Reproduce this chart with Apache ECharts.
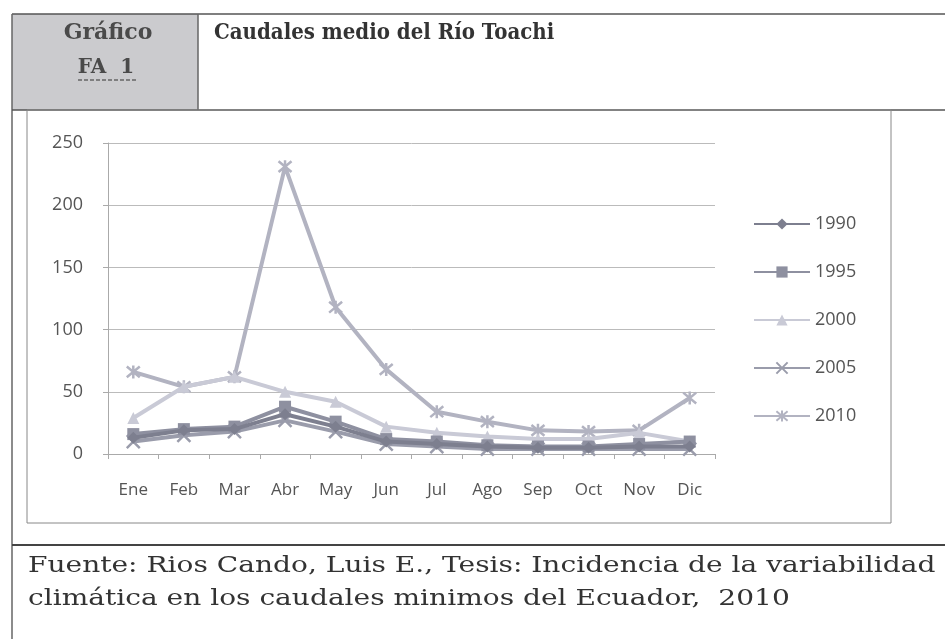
<!DOCTYPE html>
<html>
<head>
<meta charset="utf-8">
<script src="https://cdn.jsdelivr.net/npm/echarts@6/dist/echarts.min.js"></script>
<style>
  html, body { margin: 0; padding: 0; background: #fff; }
  #chart { width: 945px; height: 639px; }
</style>
</head>
<body>
<div id="chart"></div>
<script>
// data
const months = ['Ene', 'Feb', 'Mar', 'Abr', 'May', 'Jun', 'Jul', 'Ago', 'Sep', 'Oct', 'Nov', 'Dic'];
const years = ['1990', '1995', '2000', '2005', '2010'];
const q1990 = [13, 19, 20, 32, 22, 10, 8, 6, 5, 5, 6, 6];
const q1995 = [16, 20, 22, 38, 26, 12, 10, 7, 6, 6, 8, 10];
const q2000 = [29, 54, 62, 50, 42, 22, 17, 14, 12, 12, 17, 10];
const q2005 = [10, 15, 18, 27, 18, 8, 6, 4, 4, 4, 4, 4];
const q2010 = [66, 54, 62, 231, 118, 68, 34, 26, 19, 18, 19, 45];
const yTicks = [0, 50, 100, 150, 200, 250];

const colors = ['#7d7f8f', '#8e90a0', '#c9cad6', '#9a9cab', '#b2b3c1'];
const xMark = 'path://M0,0L20,20M20,0L0,20';
const starMark = 'path://M0,0L20,20M20,0L0,20M10,-2L10,22';
const symbols = ['diamond', 'rect', 'triangle', xMark, starMark];
const values = [q1990, q1995, q2000, q2005, q2010];

const chart = echarts.init(document.getElementById('chart'));

const serif = '"DejaVu Serif", "Liberation Serif", serif';
const sans = '"Open Sans", "Liberation Sans", sans-serif';

const series = years.map((name, i) => ({
  name: name,
  type: 'line',
  data: values[i],
  symbol: symbols[i],
  symbolSize: i >= 3 ? 13 : 12,
  lineStyle: { width: 4, color: colors[i] },
  itemStyle: {
    color: colors[i],
    borderColor: colors[i],
    borderWidth: i >= 3 ? 2.5 : 0
  },
  z: 10 - i
}));

const option = {
  backgroundColor: '#ffffff',
  animation: false,
  graphic: [
    { type: 'rect', shape: { x: 12, y: 14, width: 186, height: 96 }, style: { fill: '#cbcbce' }, silent: true },
    { type: 'line', shape: { x1: 12, y1: 14, x2: 945, y2: 14 }, style: { stroke: '#555', lineWidth: 1.5 } },
    { type: 'line', shape: { x1: 12, y1: 14, x2: 12, y2: 639 }, style: { stroke: '#666', lineWidth: 1.5 } },
    { type: 'line', shape: { x1: 198, y1: 14, x2: 198, y2: 110 }, style: { stroke: '#666', lineWidth: 1.5 } },
    { type: 'line', shape: { x1: 12, y1: 110, x2: 945, y2: 110 }, style: { stroke: '#555', lineWidth: 1.5 } },
    { type: 'rect', shape: { x: 27, y: 110, width: 864, height: 413 }, style: { fill: 'none', stroke: '#888', lineWidth: 1 } },
    { type: 'line', shape: { x1: 12, y1: 545, x2: 945, y2: 545 }, style: { stroke: '#444', lineWidth: 2 } },
    { type: 'text', x: 108, y: 33, style: { text: 'Gráfico', font: 'bold 22px ' + serif, fill: '#4a4a4a', align: 'center', verticalAlign: 'middle' } },
    { type: 'text', x: 106, y: 68, style: { text: 'FA  1', font: 'bold 20px ' + serif, fill: '#4a4a4a', align: 'center', verticalAlign: 'middle' } },
    { type: 'line', shape: { x1: 78, y1: 80, x2: 136, y2: 80 }, style: { stroke: '#666', lineWidth: 1.5, lineDash: [4, 2] } },
    { type: 'text', x: 214, y: 33, scaleX: 0.9, style: { text: 'Caudales medio del Río Toachi', font: 'bold 22px ' + serif, fill: '#333', verticalAlign: 'middle' } },
    { type: 'text', x: 28, y: 566, scaleX: 1.22, style: { text: 'Fuente: Rios Cando, Luis E., Tesis: Incidencia de la variabilidad', font: '23px ' + serif, fill: '#333', verticalAlign: 'middle' } },
    { type: 'text', x: 28, y: 599, scaleX: 1.22, style: { text: 'climática en los caudales minimos del Ecuador,  2010', font: '23px ' + serif, fill: '#333', verticalAlign: 'middle' } }
  ],
  legend: {
    orient: 'vertical',
    left: 753,
    top: 215,
    padding: 0,
    itemGap: 30,
    itemWidth: 56,
    itemHeight: 14,
    data: years,
    textStyle: { fontSize: 18, lineHeight: 16, color: '#555', fontFamily: sans }
  },
  grid: {
    left: 108,
    right: 230,
    top: 143,
    bottom: 185,
    containLabel: false
  },
  xAxis: {
    type: 'category',
    data: months,
    boundaryGap: true,
    axisLine: { lineStyle: { color: '#aaa', width: 1 } },
    axisTick: { show: true, length: 5, lineStyle: { color: '#aaa' } },
    axisLabel: { margin: 28, fontSize: 17, color: '#555', fontFamily: sans }
  },
  yAxis: {
    type: 'value',
    min: yTicks[0],
    max: yTicks[yTicks.length - 1],
    interval: 50,
    axisLine: { show: true, lineStyle: { color: '#aaa', width: 1 } },
    axisTick: { show: true, length: 5, lineStyle: { color: '#aaa' } },
    splitLine: { lineStyle: { color: '#bbb', width: 1 } },
    axisLabel: { margin: 25, fontSize: 18, color: '#555', fontFamily: sans }
  },
  series: series
};

chart.setOption(option);
</script>
</body>
</html>
